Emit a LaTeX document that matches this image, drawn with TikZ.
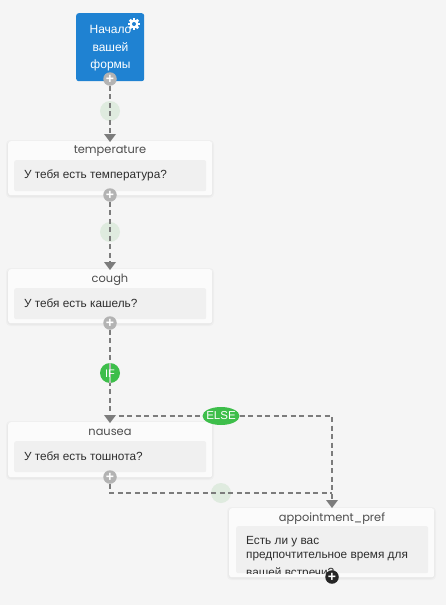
\documentclass[tikz,border=0pt]{standalone}
\usepackage{fontspec}
\setmainfont{Liberation Sans}
\newfontfamily\titlefont{Poppins}
\usetikzlibrary{arrows.meta,calc,shapes.geometric}
\definecolor{bgc}{HTML}{F5F5F5}
\definecolor{bluec}{HTML}{1F82D2}
\definecolor{cardc}{HTML}{FBFBFB}
\definecolor{innerc}{HTML}{F0F0F0}
\definecolor{linec}{HTML}{7C7C7C}
\definecolor{plusc}{HTML}{B3B3B3}
\definecolor{paleg}{HTML}{DFEBDF}
\definecolor{greenc}{HTML}{3DBE4A}
\definecolor{textc}{HTML}{2E2E2E}
\tikzset{
  x=1pt,y=-1pt,
  card/.style={draw=none,fill=cardc,rounded corners=2.5pt,anchor=north west,inner sep=0pt,
    minimum width=204pt,minimum height=54pt},
  innerbox/.style={fill=innerc,rounded corners=2pt,anchor=north west,inner sep=0pt,
    minimum width=192pt,minimum height=31pt},
  cardtitle/.style={font=\titlefont\fontsize{11.4}{13}\selectfont,text=textc!85!white,inner sep=0pt,anchor=center},
  cardtext/.style={font=\fontsize{11.8}{14}\selectfont,text=textc,inner sep=0pt,anchor=west},
  plusnode/.style={circle,fill=plusc,text=white,minimum size=13.5pt,inner sep=0pt,
    font=\bfseries\fontsize{14}{14}\selectfont},
  palenode/.style={circle,fill=paleg,minimum size=20pt,inner sep=0pt},
  flow/.style={draw=linec,line width=2pt,dash pattern=on 5pt off 3.5pt},
  tipflow/.style={fill=linec,draw=none},
  glow/.style={fill=black,opacity=0.025,rounded corners=4pt}
}
\begin{document}
\begin{tikzpicture}
\useasboundingbox (0,0) rectangle (446,605);
\fill[bgc] (0,0) rectangle (446,605);

% soft shadows
\foreach \a/\b/\c/\d in {8/141/212/195, 8/269/212/323, 8/422/212/477, 229/508/434/577}{
  \fill[glow] (\a-2,\b-1) rectangle (\c+2,\d+3);
  \fill[glow] (\a-1,\b) rectangle (\c+1,\d+2);
}

% start block
\node[fill=bluec,rounded corners=2.5pt,minimum width=68pt,minimum height=68pt,inner sep=0pt,anchor=north west] (start) at (76,13) {};
\node[font=\fontsize{12}{17.5}\selectfont,text=white,align=center,inner sep=0pt] (starttext) at (110.5,48.5) {Начало\\вашей\\формы};
% gear
\begin{scope}[shift={(134,24)}]
  \foreach \r in {0,45,...,315}{
    \fill[white,rotate=\r] (-1.4,-6) rectangle (1.4,0);
  }
  \fill[white] (0,0) circle (4.5);
  \fill[bluec] (0,0) circle (2);
\end{scope}

% cards
\node[card] (temperature) at (8,141) {};
\node[innerbox] (tempinner) at (14,160) {};
\node[cardtitle] (temptitle) at (110,151.5) {temperature};
\node[cardtext] (temptext) at (24,175.5) {У тебя есть температура?};

\node[card] (cough) at (8,269) {};
\node[innerbox] (coughinner) at (14,288) {};
\node[cardtitle] (coughtitle) at (110,279.5) {cough};
\node[cardtext] (coughtext) at (24,303.5) {У тебя есть кашель?};

\node[card,minimum height=55pt] (nausea) at (8,422) {};
\node[innerbox] (nauseainner) at (14,441) {};
\begin{scope}
  \clip (8,425.5) rectangle (212,445);
  \node[cardtitle] (nauseatitle) at (110,432.5) {nausea};
\end{scope}
\node[cardtext] (nauseatext) at (24,456.5) {У тебя есть тошнота?};

\node[card,minimum width=205pt,minimum height=69pt] (appt) at (229,508) {};
\node[innerbox,minimum height=47pt] (apptinner) at (236,526) {};
\node[cardtitle] (appttitle) at (332,518.5) {appointment\_pref};
\begin{scope}
  \clip (236,526) rectangle (428,573);
  \node[cardtext] (appttext1) at (246,541.5) {Есть ли у вас};
  \node[cardtext] (appttext2) at (246,556.5) {предпочтительное время для};
  \node[cardtext] (appttext3) at (246,573) {вашей встречи?};
\end{scope}

% pale / condition nodes
\node[palenode] (p1) at (110,111) {};
\node[palenode] (p2) at (110,232) {};
\node[palenode] (p3) at (221,493) {};
\node[circle,fill=greenc,minimum size=20pt,inner sep=0pt] (ifn) at (110,373) {};
\node[ellipse,fill=greenc,minimum width=37pt,minimum height=18pt,inner sep=0pt] (elsen) at (221,416) {};

% plus nodes
\node[plusnode] (a1) at (110,79) {+};
\node[plusnode] (a2) at (110,195) {+};
\node[plusnode] (a3) at (110,323) {+};
\node[plusnode] (a4) at (110,477) {+};
\node[circle,fill=black!85,text=white,minimum size=13.5pt,inner sep=0pt,font=\bfseries\fontsize{14}{14}\selectfont] (a5) at (332,577) {+};

% junction coordinates
\coordinate (t1) at (110,134);
\coordinate (t2) at (110,262);
\coordinate (t3) at (110,415);
\coordinate (t4) at (332,501);
\coordinate (j1) at (332,416);
\coordinate (j2) at (110,493);
\coordinate (j3) at (332,493);
\coordinate (j4) at (110,416);

% connectors
\draw[flow] (a1) -- (t1);
\draw[flow] (a2) -- (t2);
\draw[flow] (a3) -- (t3);
\draw[flow] (j4) -- (elsen.west);
\draw[flow] (elsen.east) -- (j1) -- (t4);
\draw[flow] (a4) -- (j2) -- (j3);

% arrowheads
\fill[tipflow] (104,134) -- (116,134) -- (110,142) -- cycle;
\fill[tipflow] (104,262) -- (116,262) -- (110,270) -- cycle;
\fill[tipflow] (104,415) -- (116,415) -- (110,423) -- cycle;
\fill[tipflow] (326,500) -- (338,500) -- (332,508) -- cycle;

% condition labels
\draw[draw=white,opacity=0.45,line width=1.5pt] (ifn.north) -- (ifn.south);
\node[text=white,font=\fontsize{11}{11}\selectfont,inner sep=0pt] (iflabel) at (110,373.5) {IF};
\node[text=white,font=\fontsize{11.5}{11}\selectfont,inner sep=0pt] (elselabel) at (221,416) {ELSE};
\end{tikzpicture}
\end{document}
